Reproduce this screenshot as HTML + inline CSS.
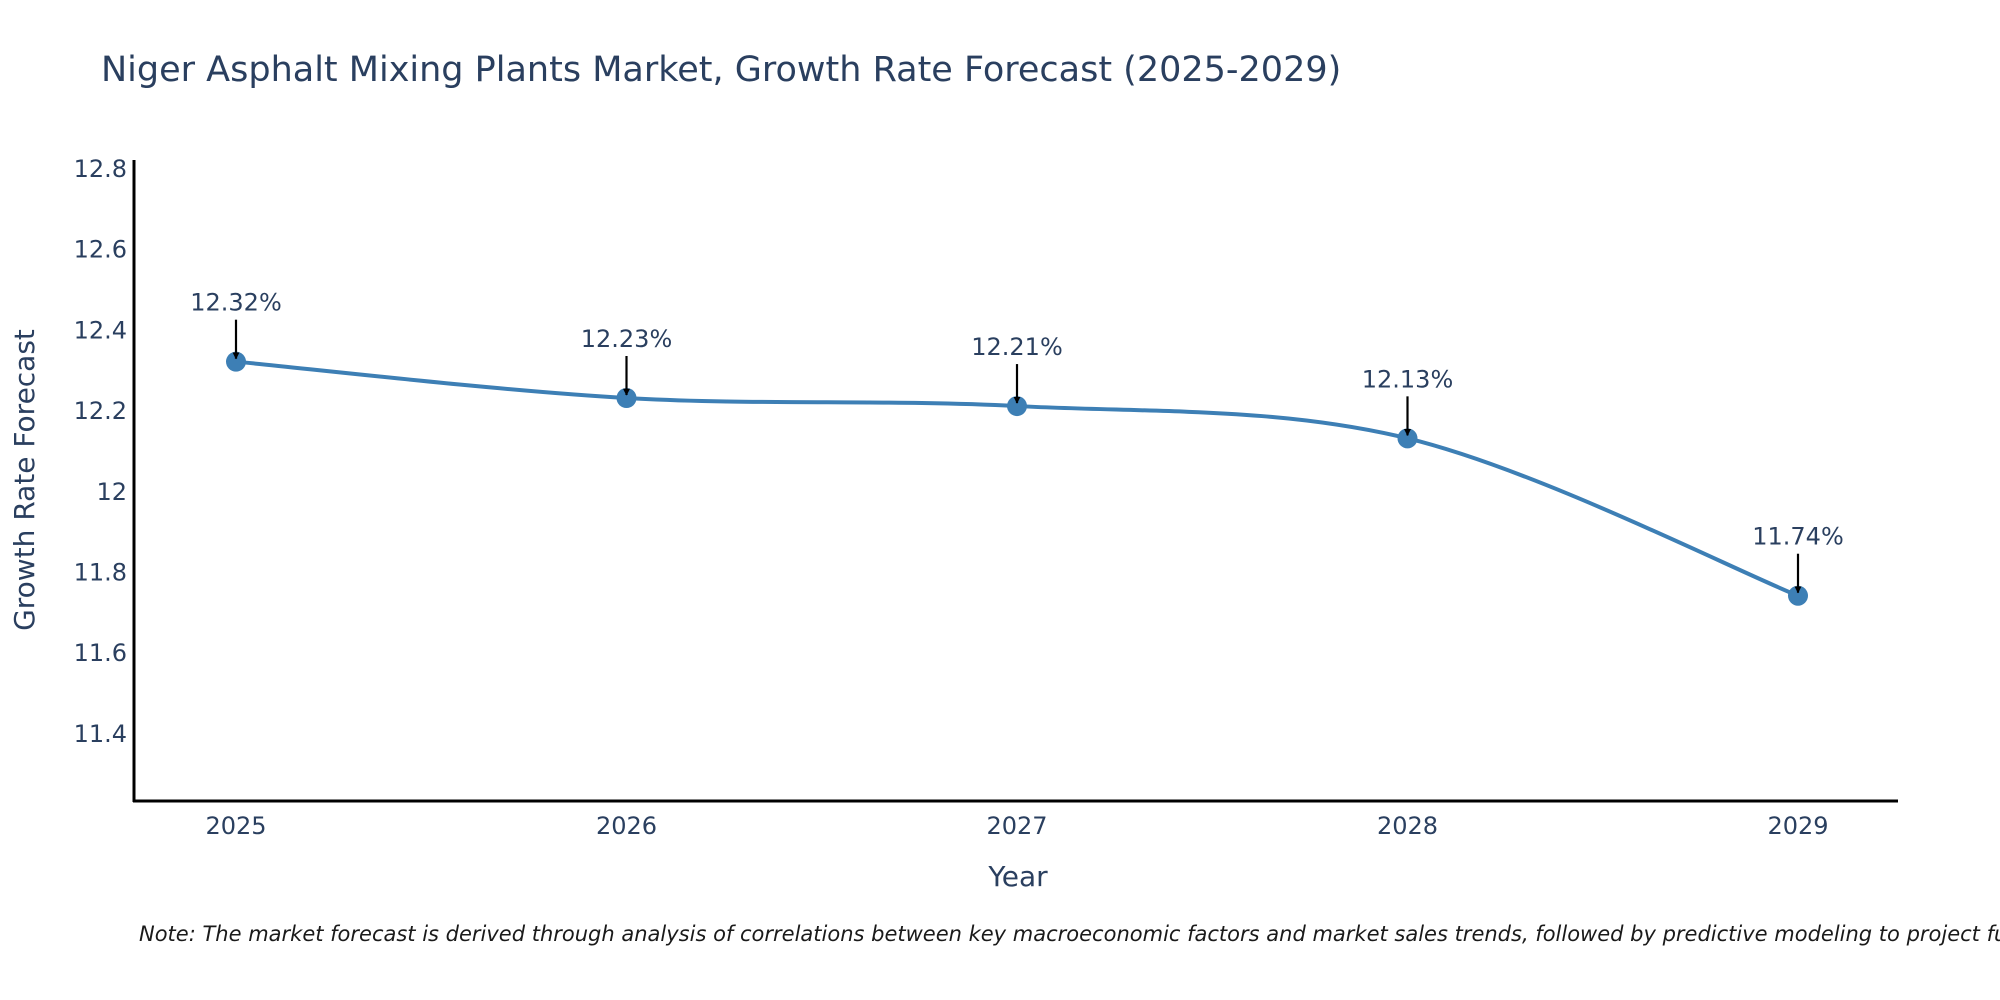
<!DOCTYPE html>
<html><head><meta charset="utf-8"><style>
html,body{margin:0;padding:0;background:#fff;}
svg{display:block;font-family:"DejaVu Sans","Liberation Sans",sans-serif;}
</style></head><body>
<svg id="chart" width="2000" height="1000" viewBox="0 0 2000 1000">
<text x="101" y="81" font-size="35" fill="#2a3f5f">Niger Asphalt Mixing Plants Market, Growth Rate Forecast (2025-2029)</text>
<g id="yticks"></g>
<g id="xticks"></g>
<line x1="134" y1="160" x2="134" y2="802" stroke="#000" stroke-width="3"/>
<line x1="133" y1="801" x2="1898" y2="801" stroke="#000" stroke-width="3"/>
<path id="series" fill="none" stroke="#3d7fb5" stroke-width="4"/>
<g id="marks"></g>
<text transform="translate(34,480) rotate(-90)" text-anchor="middle" font-size="28" fill="#2a3f5f">Growth Rate Forecast</text>
<text x="1018" y="886" text-anchor="middle" font-size="28" fill="#2a3f5f">Year</text>
<text x="139" y="941" font-size="21" font-style="italic" fill="#1a1a1a">Note: The market forecast is derived through analysis of correlations between key macroeconomic factors and market sales trends, followed by predictive modeling to project future sales.</text>
<defs><marker id="ah" viewBox="0 0 10 10" refX="9" refY="5" markerWidth="7" markerHeight="7" markerUnits="userSpaceOnUse" orient="auto"><path d="M0,0 L10,5 L0,10 z" fill="#000"/></marker></defs>
</svg>
<script>
const years = ["2025","2026","2027","2028","2029"];
const values = [12.32, 12.23, 12.21, 12.13, 11.74];
const labels = ["12.32%","12.23%","12.21%","12.13%","11.74%"];
const yTicks = [11.4, 11.6, 11.8, 12.0, 12.2, 12.4, 12.6, 12.8];
const yTickLabels = ["11.4","11.6","11.8","12","12.2","12.4","12.6","12.8"];

const NS = "http://www.w3.org/2000/svg";
function xPos(i){ return 236 + i * 390.5; }
function yPos(v){ return 168 + (12.8 - v) * 403.5; }
function mk(tag, attrs, parent){ const e=document.createElementNS(NS,tag); for(const k in attrs) e.setAttribute(k,attrs[k]); parent.appendChild(e); return e; }

const yt = document.getElementById('yticks');
yTicks.forEach((v,i)=>{
  const t = mk('text',{x:127,y:yPos(v)+9,'text-anchor':'end','font-size':24,fill:'#2a3f5f'},yt);
  
  
  t.textContent = yTickLabels[i];
});
const xt = document.getElementById('xticks');
years.forEach((y,i)=>{
  const t = mk('text',{x:xPos(i),y:834,'text-anchor':'middle','font-size':24,fill:'#2a3f5f'},xt);
  
  
  t.textContent = y;
});

const pts = values.map((v,i)=>[xPos(i), yPos(v)]);
let d = "M"+pts[0][0]+","+pts[0][1];
const s = 0.5/3*2;
for(let i=0;i<pts.length-1;i++){
  const p0=pts[Math.max(i-1,0)], p1=pts[i], p2=pts[i+1], p3=pts[Math.min(i+2,pts.length-1)];
  const c1=[p1[0]+(p2[0]-p0[0])*s/2, p1[1]+(p2[1]-p0[1])*s/2];
  const c2=[p2[0]-(p3[0]-p1[0])*s/2, p2[1]-(p3[1]-p1[1])*s/2];
  d += " C"+c1[0]+","+c1[1]+" "+c2[0]+","+c2[1]+" "+p2[0]+","+p2[1];
}
document.getElementById('series').setAttribute('d', d);

const g = document.getElementById('marks');
pts.forEach((p,i)=>{
  const c = mk('circle',{cx:p[0],cy:p[1],r:10,fill:'#3d7fb5'},g);
  
  
  const a = mk('line',{x1:p[0],y1:p[1]-42,x2:p[0],y2:p[1]-3,stroke:'#000','stroke-width':2.2,'marker-end':'url(#ah)'},g);
  
  
  const t = mk('text',{x:p[0],y:p[1]-51,'text-anchor':'middle','font-size':24,fill:'#2a3f5f'},g);
  
  
  t.textContent = labels[i];
});
</script>
</body></html>
